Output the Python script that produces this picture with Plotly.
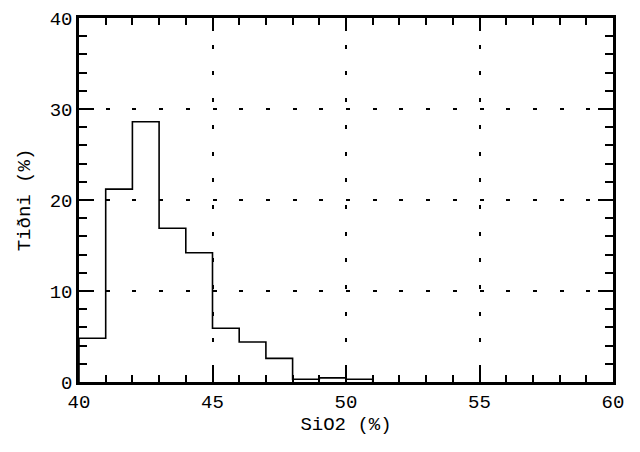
import plotly.graph_objects as go

# SiO2 histogram: left edge of each 1 %-wide bin and its share of samples
bin_left = [40, 41, 42, 43, 44, 45, 46, 47, 48, 49, 50]
share = [4.8, 21.2, 28.6, 16.9, 14.2, 5.9, 4.4, 2.6, 0.3, 0.45, 0.3]
bin_width = 1

x_ticks = [40, 45, 50, 55, 60]
y_ticks = [0, 10, 20, 30, 40]

# outline of the histogram as a step line (closed down to zero on both ends)
xs = [bin_left[0]] + bin_left + [bin_left[-1] + bin_width]
ys = [0] + share + [0]

FONT = "Liberation Mono, DejaVu Sans Mono, monospace"

fig = go.Figure(
    go.Scatter(
        x=xs, y=ys, mode="lines", line_shape="hv",
        line=dict(color="black", width=1.6), hoverinfo="skip",
    )
)

axis_common = dict(
    showline=True, linecolor="black", linewidth=2.5, mirror="ticks",
    ticks="inside", tickcolor="black", tickwidth=2.2,
    showgrid=True, gridcolor="black", gridwidth=1.6, griddash="4px,22.7px",
    zeroline=False, tickfont=dict(family=FONT, size=19, color="black"),
)

fig.update_xaxes(
    range=[40, 60], tickvals=x_ticks, ticklen=13,
    minor=dict(ticks="inside", dtick=1, ticklen=7, tickwidth=2.2,
               tickcolor="black", showgrid=False),
    title=dict(text="SiO2 (%)", font=dict(family=FONT, size=19, color="black"), standoff=5),
    **axis_common,
)
fig.update_yaxes(
    range=[0, 40], tickvals=y_ticks, ticklen=15,
    minor=dict(ticks="inside", dtick=2, ticklen=8, tickwidth=2.2,
               tickcolor="black", showgrid=False),
    title=dict(text="Tiðni (%)", font=dict(family=FONT, size=19, color="black"), standoff=14),
    **axis_common,
)

fig.update_layout(
    width=640, height=452,
    margin=dict(l=79, r=27, t=9, b=70),
    paper_bgcolor="white", plot_bgcolor="white",
    showlegend=False,
)

fig.write_html("out.html")
